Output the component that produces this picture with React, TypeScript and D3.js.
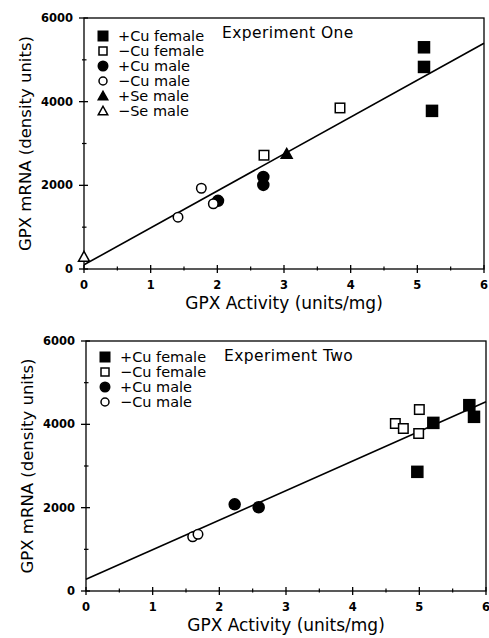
import React from 'react';
import * as d3 from 'd3';

// Experiment One
const oneCuFemalePlusX = [5.1, 5.1, 5.22];
const oneCuFemalePlusY = [5300, 4830, 3780];
const oneCuFemaleMinusX = [2.7, 3.84];
const oneCuFemaleMinusY = [2720, 3850];
const oneCuMalePlusX = [2.01, 2.69, 2.69];
const oneCuMalePlusY = [1630, 2200, 2010];
const oneCuMaleMinusX = [1.41, 1.76, 1.94];
const oneCuMaleMinusY = [1240, 1930, 1560];
const oneSeMalePlusX = [3.04];
const oneSeMalePlusY = [2750];
const oneSeMaleMinusX = [0.0];
const oneSeMaleMinusY = [290];
const oneFit = [100, 883]; // intercept, slope

// Experiment Two
const twoCuFemalePlusX = [4.97, 5.21, 5.75, 5.82];
const twoCuFemalePlusY = [2860, 4035, 4460, 4180];
const twoCuFemaleMinusX = [4.64, 4.76, 5.0, 4.99];
const twoCuFemaleMinusY = [4020, 3900, 4355, 3780];
const twoCuMalePlusX = [2.23, 2.59];
const twoCuMalePlusY = [2080, 2010];
const twoCuMaleMinusX = [1.6, 1.68];
const twoCuMaleMinusY = [1300, 1360];
const twoFit = [280, 710];

const xTicks = [0, 1, 2, 3, 4, 5, 6];
const yTicks = [0, 2000, 4000, 6000];
const xMinor = [0.5, 1.5, 2.5, 3.5, 4.5, 5.5];
const yMinor = [1000, 3000, 5000];

const labelsOne = ['+Cu female', '\u2212Cu female', '+Cu male', '\u2212Cu male', '+Se male', '\u2212Se male'];
const labelsTwo = ['+Cu female', '\u2212Cu female', '+Cu male', '\u2212Cu male'];
const shapes = ['square', 'square', 'circle', 'circle', 'triangle', 'triangle'];
const filled = [true, false, true, false, true, false];

const zip = (xs, ys) => xs.map((x, i) => [x, ys[i]]);

const seriesOne = [
  zip(oneCuFemalePlusX, oneCuFemalePlusY),
  zip(oneCuFemaleMinusX, oneCuFemaleMinusY),
  zip(oneCuMalePlusX, oneCuMalePlusY),
  zip(oneCuMaleMinusX, oneCuMaleMinusY),
  zip(oneSeMalePlusX, oneSeMalePlusY),
  zip(oneSeMaleMinusX, oneSeMaleMinusY),
];
const seriesTwo = [
  zip(twoCuFemalePlusX, twoCuFemalePlusY),
  zip(twoCuFemaleMinusX, twoCuFemaleMinusY),
  zip(twoCuMalePlusX, twoCuMalePlusY),
  zip(twoCuMaleMinusX, twoCuMaleMinusY),
];

const font = "'DejaVu Sans', sans-serif";

function Marker({ shape, fill, cx, cy, size }) {
  const h = size / 2;
  const style = { fill: fill ? '#000' : '#fff', stroke: '#000', strokeWidth: 1.5 };
  if (shape === 'square') {
    const s = fill ? size : size - 1.5;
    return <rect x={cx - s / 2} y={cy - s / 2} width={s} height={s} style={style} />;
  }
  if (shape === 'circle') {
    return <circle cx={cx} cy={cy} r={fill ? h : h - 0.75} style={style} />;
  }
  const p = d3.path();
  p.moveTo(cx, cy - h);
  p.lineTo(cx + h, cy + h * 0.8);
  p.lineTo(cx - h, cy + h * 0.8);
  p.closePath();
  return <path d={p.toString()} style={style} />;
}

function Panel({ series, labels, fit, title, left, right, top, bottom, legendTop }) {
  const x = d3.scaleLinear().domain([0, 6]).range([left, right]);
  const y = d3.scaleLinear().domain([0, 6000]).range([bottom, top]);
  const line = d3.line().x((d) => x(d[0])).y((d) => y(d[1]));
  const fitPts = [0, 6].map((v) => [v, fit[0] + fit[1] * v]);

  return (
    <g>
      {/* frame */}
      <rect x={left} y={top} width={right - left} height={bottom - top}
            fill="none" stroke="#000" strokeWidth={1.3} />
      {/* x ticks */}
      {xTicks.map((t) => (
        <g key={'xt' + t}>
          <line x1={x(t)} x2={x(t)} y1={bottom - 4} y2={bottom + 4} stroke="#000" strokeWidth={1.3} />
          <text x={x(t)} y={bottom + 20} textAnchor="middle" fontFamily={font}
                fontWeight="bold" fontSize={11.5}>{t}</text>
        </g>
      ))}
      {xMinor.map((t) => (
        <line key={'xm' + t} x1={x(t)} x2={x(t)} y1={bottom - 2.5} y2={bottom + 1.5} stroke="#000" strokeWidth={1.2} />
      ))}
      {/* y ticks */}
      {yTicks.map((t) => (
        <g key={'yt' + t}>
          <line x1={left - 5} x2={left + 4} y1={y(t)} y2={y(t)} stroke="#000" strokeWidth={1.3} />
          <text x={left - 11} y={y(t)} dy="0.36em" textAnchor="end" fontFamily={font}
                fontWeight="bold" fontSize={11.5}>{t}</text>
        </g>
      ))}
      {yMinor.map((t) => (
        <line key={'ym' + t} x1={left - 2} x2={left + 2.5} y1={y(t)} y2={y(t)} stroke="#000" strokeWidth={1.2} />
      ))}
      {/* axis labels */}
      <text x={(left + right) / 2} y={bottom + 40} textAnchor="middle" fontFamily={font} fontSize={17}>
        GPX Activity (units/mg)
      </text>
      <text transform={`translate(${left - 53},${(top + bottom) / 2}) rotate(-90)`} textAnchor="middle"
            fontFamily={font} fontSize={16.5}>
        GPX mRNA (density units)
      </text>
      {/* regression line */}
      <path d={line(fitPts)} fill="none" stroke="#000" strokeWidth={1.6} />
      {/* points */}
      {series.map((pts, i) =>
        pts.map((d, j) => (
          <Marker key={i + '-' + j} shape={shapes[i]} fill={filled[i]} cx={x(d[0])} cy={y(d[1])} size={11} />
        ))
      )}
      {/* legend */}
      {labels.map((lab, i) => (
        <g key={'lg' + i}>
          <Marker shape={shapes[i]} fill={filled[i]} cx={left + 19} cy={legendTop + i * 15} size={9.5} />
          <text x={left + 34} y={legendTop + i * 15} dy="0.36em" fontFamily={font} fontSize={14.5}>{lab}</text>
        </g>
      ))}
      <text x={left + 138} y={top + 20} fontFamily={font} fontSize={15.5} letterSpacing={0.4}>{title}</text>
    </g>
  );
}

export default function App() {
  return (
    <svg width={489} height={638} style={{ position: 'absolute', left: 0, top: 0, background: '#fff' }}>
      <Panel series={seriesOne} labels={labelsOne} fit={oneFit} title="Experiment One"
             left={84} right={484} top={18} bottom={269} legendTop={36} />
      <Panel series={seriesTwo} labels={labelsTwo} fit={twoFit} title="Experiment Two"
             left={86} right={486} top={341} bottom={591} legendTop={357} />
    </svg>
  );
}
